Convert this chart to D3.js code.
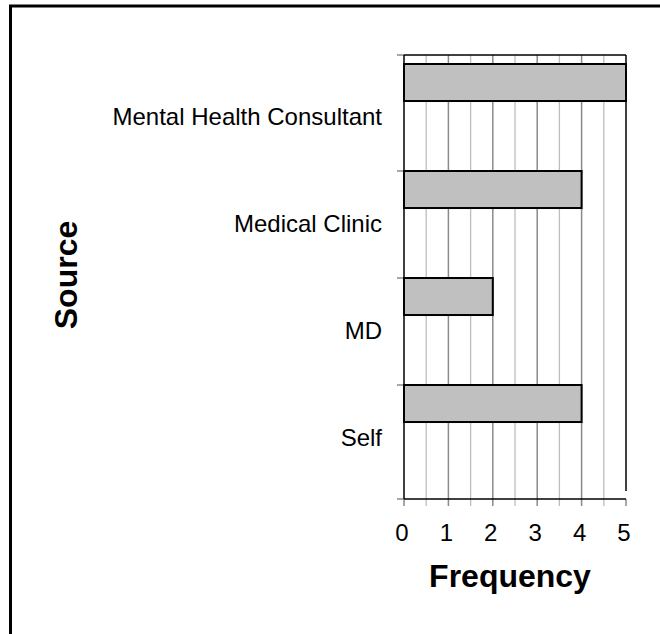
<!DOCTYPE html>
<html><head><meta charset="utf-8">
<script src="https://cdn.jsdelivr.net/npm/d3@7"></script>
<style>body{margin:0;background:#fff}svg{display:block}text{font-family:"Liberation Sans",Arial,sans-serif}</style>
</head><body>
<script>
const categories = ["Mental Health Consultant","Medical Clinic","MD","Self"];
const values = [5,4,2,4];
const xTicks = [0,1,2,3,4,5];
const xTitle = "Frequency";
const yTitle = "Source";

const W=660,H=634;
const svg=d3.select("body").append("svg").attr("width",W).attr("height",H);
// outer frame (extends beyond the picture on right/bottom)
svg.append("rect").attr("x",10.5).attr("y",6).attr("width",700).attr("height",700)
  .attr("fill","none").attr("stroke","#000").attr("stroke-width",3);

const L=404,R=626,T=55,B=499;
const x=d3.scaleLinear().domain([0,5]).range([L,R]);
const y=d3.scaleBand().domain(categories).range([64,64+4*107]).padding(0);
const barH=y.bandwidth()*0.346;

// gridlines: minor at halves, major at integers
const halves=d3.range(0,5.01,0.5);
svg.append("g").selectAll("line").data(halves.filter(v=>v%1!==0)).join("line")
  .attr("x1",d=>x(d)).attr("x2",d=>x(d)).attr("y1",T).attr("y2",B+7)
  .attr("stroke","#bdbdbd").attr("stroke-width",1.3);
svg.append("g").selectAll("line").data(xTicks.filter(v=>v>0&&v<5)).join("line")
  .attr("x1",d=>x(d)).attr("x2",d=>x(d)).attr("y1",T).attr("y2",B+7)
  .attr("stroke","#8a8a8a").attr("stroke-width",1.5);
svg.append("g").selectAll("line").data([0,5]).join("line")
  .attr("x1",d=>x(d)).attr("x2",d=>x(d)).attr("y1",B).attr("y2",B+7)
  .attr("stroke","#8a8a8a").attr("stroke-width",1.5);

// y ticks
const yTickPos=[T].concat(categories.slice(1).map(c=>y(c))).concat([B]);
svg.append("g").selectAll("line").data(yTickPos).join("line")
  .attr("x1",L-7).attr("x2",L).attr("y1",d=>d).attr("y2",d=>d)
  .attr("stroke","#8a8a8a").attr("stroke-width",1.5);

// plot frame
svg.append("line").attr("x1",L).attr("x2",R).attr("y1",T).attr("y2",T).attr("stroke","#000").attr("stroke-width",1.5);
svg.append("line").attr("x1",R).attr("x2",R).attr("y1",T).attr("y2",B-8).attr("stroke","#000").attr("stroke-width",1.5);
svg.append("line").attr("x1",L).attr("x2",L).attr("y1",T).attr("y2",B).attr("stroke","#000").attr("stroke-width",1.5);
svg.append("line").attr("x1",L).attr("x2",R).attr("y1",B).attr("y2",B).attr("stroke","#000").attr("stroke-width",1.5);

// bars
svg.append("g").selectAll("rect").data(categories).join("rect")
  .attr("x",x(0)).attr("y",c=>y(c))
  .attr("width",(c,i)=>x(values[i])-x(0)).attr("height",barH)
  .attr("fill","#c0c0c0").attr("stroke","#000").attr("stroke-width",2);

// category labels
svg.append("g").selectAll("text").data(categories).join("text")
  .attr("x",382).attr("y",c=>y(c)+y.bandwidth()*0.49).attr("dy","0.35em")
  .attr("text-anchor","end").attr("font-size",24).text(d=>d);

// x tick labels
svg.append("g").selectAll("text").data(xTicks).join("text")
  .attr("x",d=>x(d)-2).attr("y",533).attr("dy","0.35em")
  .attr("text-anchor","middle").attr("font-size",24).text(d=>d);

// titles
svg.append("text").attr("x",510).attr("y",576).attr("dy","0.35em").attr("text-anchor","middle")
  .attr("font-size",32).attr("font-weight","bold").text(xTitle);
svg.append("text").attr("transform","translate(66,275) rotate(-90)").attr("dy","0.35em")
  .attr("text-anchor","middle").attr("font-size",32).attr("font-weight","bold").text(yTitle);
</script>
</body></html>
